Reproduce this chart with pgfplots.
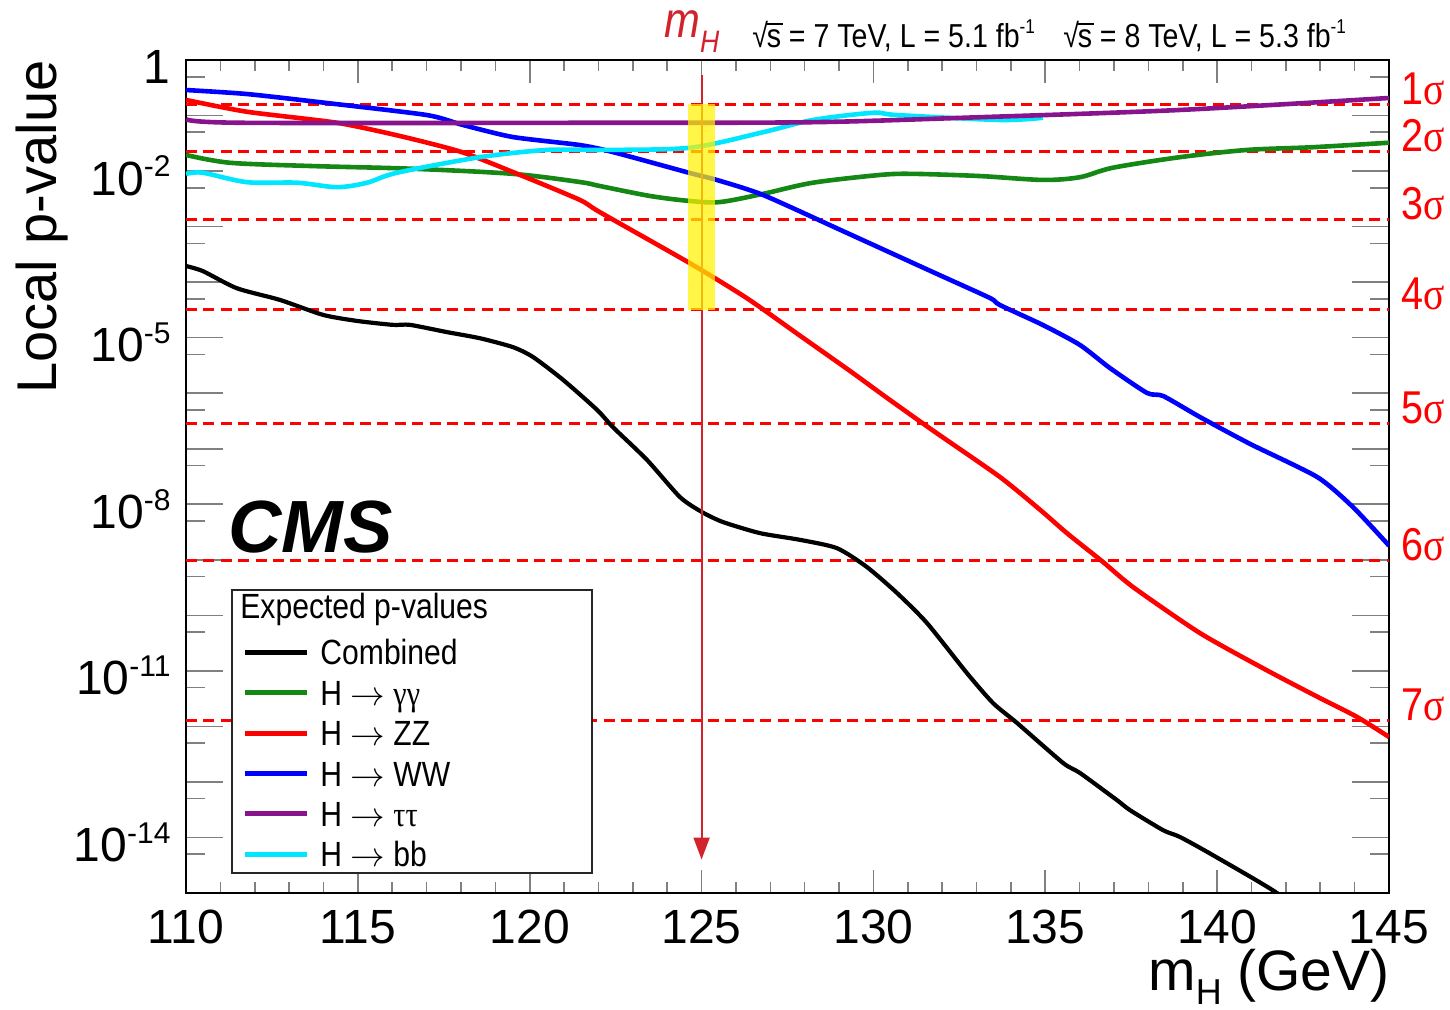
\documentclass[border=0pt]{standalone}
\usepackage{pgfplots}
\pgfplotsset{compat=1.18}
\usepackage{fontspec}
\usetikzlibrary{arrows.meta}
\setmainfont{Liberation Sans}[FakeStretch=0.86]
\newfontfamily\plainsans{Liberation Sans}
\newfontfamily\grk{Liberation Serif}[FakeStretch=0.86]

\definecolor{cgreen}{RGB}{20,135,20}
\definecolor{cpurple}{RGB}{135,20,140}
\definecolor{ccyan}{RGB}{0,230,255}
\definecolor{mhred}{RGB}{210,35,45}

\newcommand{\sz}[1]{\fontsize{#1}{#1}\selectfont}
\newcommand{\ex}[1]{\raisebox{0.38em}{\sz{15}#1}}
\newcommand{\sig}[1]{#1{\grk σ}}
% square root of s with an overbar
\newcommand{\rts}{√\kern-0.04em\rlap{\rule[0.69em]{0.5em}{0.055em}}s}

\begin{document}
\begin{tikzpicture}
\begin{axis}[
  at={(0pt,0pt)}, anchor=south west,
  scale only axis, width=601.5pt, height=416.5pt,
  xmin=110, xmax=145,
  ymode=log, ymin=1e-15, ymax=1,
  clip mode=individual,
  axis line style={line width=1.2pt},
  tick align=inside,
  xtick={110,115,120,125,130,135,140,145},
  xticklabels={110,115,120,125,130,135,140,145},
  minor x tick num=4,
  ytick={1e-15,1e-14,1e-13,1e-12,1e-11,1e-10,1e-9,1e-8,1e-7,1e-6,1e-5,1e-4,1e-3,1e-2,1e-1,1},
  yticklabels={{},10\ex{-14},{},{},10\ex{-11},{},{},10\ex{-8},{},{},10\ex{-5},{},{},10\ex{-2},{},1},
  minor ytick={5e-15,5e-14,5e-13,5e-12,5e-11,5e-10,5e-9,5e-8,5e-7,5e-6,5e-5,5e-4,5e-3,5e-2,5e-1},
  every major x tick/.append style={line width=0.8pt, /pgfplots/major tick length=11.5pt},
  every minor x tick/.append style={line width=0.8pt, /pgfplots/minor tick length=5.5pt},
  every major y tick/.append style={line width=0.8pt, /pgfplots/major tick length=18.5pt},
  every minor y tick/.append style={line width=0.8pt, /pgfplots/minor tick length=9.5pt},
  xticklabel style={font=\plainsans\sz{24}, anchor=base, inner sep=0pt, yshift=-25pt},
  yticklabel style={font=\plainsans\sz{24}, anchor=base east, inner sep=0pt, xshift=-7.5pt, yshift=-12pt},
  legend cell align=left,
  legend image code/.code={\draw[#1, line width=2.5pt] (0pt,0pt) -- (31pt,0pt);},
  legend style={draw=none, fill=none, at={(rel axis cs:0.0466,0.3136)}, anchor=north west,
    inner sep=0pt, row sep=0pt, column sep=5.5pt,
    nodes={inner sep=0pt, text height=16.35pt, text depth=3.85pt, font=\sz{17.5}}},
]

% significance levels, one-sided p-values for 1..7 sigma
\pgfplotsinvokeforeach{0.158655,0.0227501,0.00134990,3.16712e-5,2.86652e-7,9.86588e-10,1.27981e-12}{
  \addplot[forget plot, red, line width=1.4pt, dash pattern=on 5.5pt off 3.2pt]
    coordinates {(110,#1) (145,#1)};
}

% combined expected local p-value
\addplot[black, line width=2.1pt, smooth, tension=0.4] coordinates {
(110,1.95e-4) (110.49,1.58e-4) (111.48,7.76e-5) (112.73,4.79e-5) (113.99,2.57e-5)
(114.98,2.00e-5) (116.02,1.70e-5) (116.52,1.70e-5) (117.59,1.26e-5) (118.55,9.77e-6)
(119.51,6.76e-6) (120.10,4.47e-6) (120.97,1.74e-6) (121.96,5.01e-7) (122.42,2.45e-7)
(123.41,6.31e-8) (124.37,1.35e-8) (125.01,7.24e-9) (125.62,4.79e-9) (126.70,3.02e-9)
(127.86,2.29e-9) (128.94,1.62e-9) (129.81,7.41e-10) (130.69,2.51e-10) (131.56,7.24e-11)
(132.72,9.12e-12) (133.48,2.63e-12) (134.18,1.15e-12) (135.52,2.19e-13) (136.01,1.45e-13)
(137.09,4.68e-14) (137.47,3.09e-14) (138.43,1.35e-14) (138.92,1.02e-14) (139.88,4.79e-15)
(141.74,1.00e-15) (142.5,3.5e-16)};
\addlegendentry{Combined}

% H -> gamma gamma
\addplot[cgreen, line width=2.3pt, smooth, tension=0.5] coordinates {
(110,0.0195) (111.28,0.0141) (113.69,0.0123) (116.60,0.0110) (119.51,8.91e-3)
(121.46,6.35e-3) (122.04,5.38e-3) (123.5,3.56e-3) (124.66,2.89e-3) (125.54,2.77e-3)
(126.79,3.89e-3) (128.24,6.17e-3) (130.19,8.51e-3) (131.15,8.91e-3) (133.10,8.13e-3)
(134.93,6.92e-3) (136.01,7.76e-3) (136.97,0.0115) (138.92,0.0178) (140.87,0.0240)
(142.79,0.0269) (145,0.0324)};
\addlegendentry{H $\rightarrow$ {\grk γγ}}

% H -> ZZ
\addplot[red, line width=2.3pt, smooth, tension=0.4] coordinates {
(110,0.191) (111.77,0.117) (114.39,0.0741) (116.23,0.0427) (118.03,0.0219)
(119.72,8.51e-3) (121.46,3.02e-3) (122.04,1.82e-3) (124.66,2.19e-4) (126.32,5.13e-5)
(127.86,1.09e-5) (129.32,2.51e-6) (130.40,8.19e-7) (131.73,2.13e-7) (133.68,3.10e-8)
(134.85,7.94e-9) (135.63,3.02e-9) (136.68,9.12e-10) (137.55,3.24e-10) (139.50,4.79e-11)
(141.45,1.02e-11) (142.99,3.24e-12) (144.07,1.48e-12) (145,6.46e-13)};
\addlegendentry{H $\rightarrow$ ZZ}

% H -> WW
\addplot[blue, line width=2.3pt, smooth, tension=0.4] coordinates {
(110,0.288) (111.77,0.244) (114.10,0.168) (117.01,0.102) (118.06,0.0675)
(119.51,0.0410) (121.46,0.0294) (122.42,0.0220) (124.66,9.23e-3) (125.45,6.90e-3)
(126.79,3.71e-3) (129.17,8.0e-4) (131.79,1.46e-4) (133.39,5.18e-5) (133.68,3.87e-5)
(134.93,1.69e-5) (136.01,7.38e-6) (136.88,2.84e-6) (137.96,1.01e-6) (138.43,8.90e-7)
(139.50,3.72e-7) (140.96,1.22e-7) (142.91,3.10e-8) (143.95,8.91e-9) (145,1.80e-9)};
\addlegendentry{H $\rightarrow$ WW}

% H -> bb (mass range up to 135 GeV)
\addplot[forget plot, ccyan, line width=2.3pt, smooth, tension=0.5] coordinates {
(110,8.91e-3) (110.49,9.33e-3) (111.77,6.31e-3) (113.23,6.17e-3) (114.39,5.13e-3)
(115.27,6.17e-3) (116.14,9.33e-3) (118.55,0.0178) (120.50,0.0240) (122.04,0.0240)
(124.66,0.0263) (126.79,0.0501) (128.24,0.0832) (129.99,0.112) (130.69,0.102)
(133.68,0.0832) (134.93,0.0912)};

% H -> tau tau
\addplot[cpurple, line width=2.3pt, smooth, tension=0.5] coordinates {
(110,0.0871) (111.57,0.0741) (122.04,0.0741) (128.24,0.0759) (133.10,0.0933)
(138.92,0.126) (145,0.207)};
\addlegendentry{H $\rightarrow$ {\grk ττ}}

\addlegendimage{ccyan, line width=2.3pt}
\addlegendentry{H $\rightarrow$ bb}

% observed mass marker
\draw[mhred, line width=1pt, -{Triangle[length=11pt,width=8pt]}]
  (axis cs:125,0.537) -- (axis cs:125,4e-15);
\fill[yellow, fill opacity=0.72] (axis cs:124.6,0.158655) rectangle (axis cs:125.4,3.16712e-5);

% sigma labels
\node[anchor=base west, inner sep=0pt, text=red, font=\sz{23}, xshift=6pt] at (axis cs:145,0.158655) {\sig{1}};
\node[anchor=base west, inner sep=0pt, text=red, font=\sz{23}, xshift=6pt] at (axis cs:145,0.0227501) {\sig{2}};
\node[anchor=base west, inner sep=0pt, text=red, font=\sz{23}, xshift=6pt] at (axis cs:145,0.00134990) {\sig{3}};
\node[anchor=base west, inner sep=0pt, text=red, font=\sz{23}, xshift=6pt] at (axis cs:145,3.16712e-5) {\sig{4}};
\node[anchor=base west, inner sep=0pt, text=red, font=\sz{23}, xshift=6pt] at (axis cs:145,2.86652e-7) {\sig{5}};
\node[anchor=base west, inner sep=0pt, text=red, font=\sz{23}, xshift=6pt] at (axis cs:145,9.86588e-10) {\sig{6}};
\node[anchor=base west, inner sep=0pt, text=red, font=\sz{23}, xshift=6pt] at (axis cs:145,1.27981e-12) {\sig{7}};

% legend frame and heading
\draw[line width=0.8pt, black!85, fill=white] (rel axis cs:0.0382,0.024) rectangle (rel axis cs:0.3375,0.3637);
\node[anchor=base west, inner sep=0pt, font=\sz{17.5}] at (rel axis cs:0.0449,0.3301) {Expected p-values};
\end{axis}

\node[anchor=base west, inner sep=0pt, font=\plainsans\bfseries\itshape\sz{37}] at (21pt,170pt) {CMS};
\node[rotate=90, anchor=base east, inner sep=0pt, font=\plainsans\sz{28}] at (-64.5pt,416.5pt) {Local p-value};
\node[anchor=base east, inner sep=0pt, font=\plainsans\sz{28.5}] at (602pt,-49pt) {m\raisebox{-0.24em}{\sz{18}H} (GeV)};
\node[anchor=base west, inner sep=0pt, text height=13.5pt, text=mhred, font=\sz{25}\itshape] at (239pt,427.5pt) {m\raisebox{-0.3em}{\sz{15.5}H}};
\node[anchor=base west, inner sep=0pt, text height=13pt, font=\sz{16.6}] at (283pt,422.5pt) {\rts{} = 7 TeV, L = 5.1 fb\raisebox{0.45em}{\sz{10}-1}};
\node[anchor=base west, inner sep=0pt, text height=13pt, font=\sz{16.6}] at (438.5pt,422.5pt) {\rts{} = 8 TeV, L = 5.3 fb\raisebox{0.45em}{\sz{10}-1}};

\pgfresetboundingbox
\path[use as bounding box] (-93pt,-58.5pt) rectangle (632pt,446.5pt);
\end{tikzpicture}
\end{document}
